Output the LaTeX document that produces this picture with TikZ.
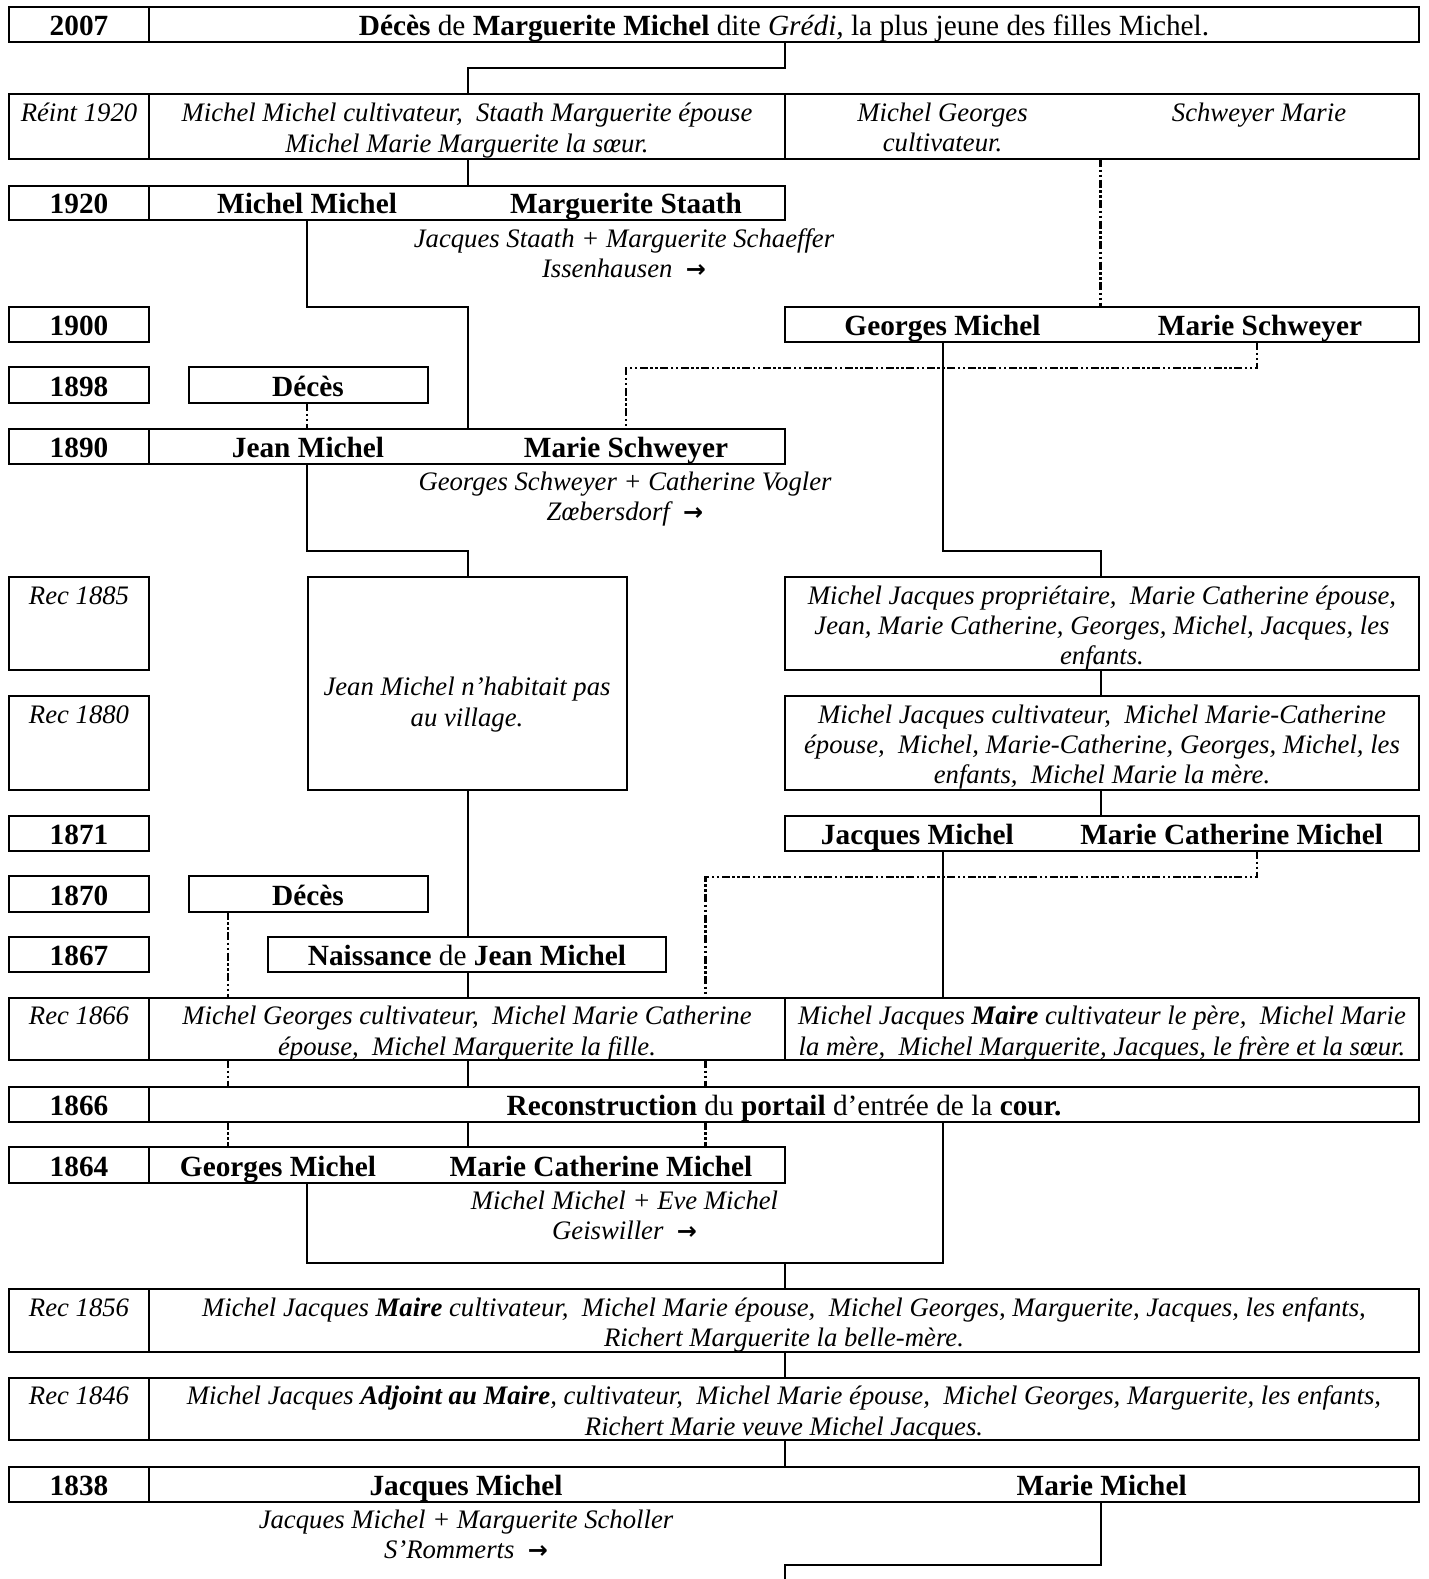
\documentclass[tikz,border=0pt]{standalone}
\usepackage{fontspec}
\setmainfont{Liberation Serif}
\newfontfamily\arrowfont{DejaVu Sans}
\usetikzlibrary{fit}
\newcommand\myarr{{\arrowfont\upshape\bfseries\fontsize{24}{28}\selectfont →}}
\begin{document}
\begin{tikzpicture}[x=1pt,y=-1pt,
 boxst/.style={draw, line width=2pt, inner sep=0pt, outer sep=0pt},
 conn/.style={line width=2pt},
 ddline/.style={line width=2.2pt, dash pattern=on 8pt off 2.5pt on 2.5pt off 2.5pt on 2.5pt off 2.5pt},
 bt/.style={font=\fontsize{29.3}{33}\selectfont\bfseries, anchor=base, inner sep=0pt},
 rt/.style={font=\fontsize{29.3}{33}\selectfont, anchor=base, inner sep=0pt},
 it/.style={font=\fontsize{26.7}{30}\selectfont\itshape, anchor=base, inner sep=0pt}]
\useasboundingbox (0,0) rectangle (1428,1579);
\fill[white] (0,0) rectangle (1428,1579);
% columns
\coordinate (cY) at (149,0);
\coordinate (c1) at (228,0);
\coordinate (c2) at (307,0);
\coordinate (c3) at (468,0);
\coordinate (c4) at (626,0);
\coordinate (c5) at (705.5,0);
\coordinate (c6) at (785,0);
\coordinate (c7) at (942.5,0);
\coordinate (c8) at (1100.5,0);
\coordinate (c9) at (1257,0);
\coordinate (j1864) at (785,1262.7);
\coordinate (bot) at (785,1579);
% boxes
\node[boxst, fit={(9,6.7) (1419,41.7)}] (r2007) {};
\node[boxst, fit={(9,94) (1419,159)}] (rReint) {};
\node[boxst, fit={(9,185.7) (785,220)}] (r1920) {};
\node[boxst, fit={(9,306.7) (149,342.3)}] (y1900) {};
\node[boxst, fit={(785,306.7) (1419,342.3)}] (g1900) {};
\node[boxst, fit={(9,367.3) (149,403.3)}] (y1898) {};
\node[boxst, fit={(188.8,367.3) (427.6,403.3)}] (d1898) {};
\node[boxst, fit={(9,429) (785,463.7)}] (r1890) {};
\node[boxst, fit={(9,576.7) (149,670)}] (y1885) {};
\node[boxst, fit={(308,576.7) (626.5,790)}] (jm) {};
\node[boxst, fit={(785,576.7) (1419,670)}] (k1885) {};
\node[boxst, fit={(9,695.7) (149,790)}] (y1880) {};
\node[boxst, fit={(785,695.7) (1419,790)}] (k1880) {};
\node[boxst, fit={(9,815.7) (149,851)}] (y1871) {};
\node[boxst, fit={(785,815.7) (1419,851)}] (j1871) {};
\node[boxst, fit={(9,876) (149,911.7)}] (y1870) {};
\node[boxst, fit={(188.8,876) (427.6,911.7)}] (d1870) {};
\node[boxst, fit={(9,937.3) (149,972.3)}] (y1867) {};
\node[boxst, fit={(268,937.3) (665.8,972.3)}] (n1867) {};
\node[boxst, fit={(9,997.7) (1419,1060)}] (r1866r) {};
\node[boxst, fit={(9,1086.7) (1419,1121.7)}] (r1866) {};
\node[boxst, fit={(9,1147.3) (785,1182.7)}] (r1864) {};
\node[boxst, fit={(9,1289.3) (1419,1351.7)}] (r1856) {};
\node[boxst, fit={(9,1377.7) (1419,1440)}] (r1846) {};
\node[boxst, fit={(9,1466.7) (1419,1501.7)}] (r1838) {};
% dividers
\foreach \b in {r2007,rReint,r1920,r1890,r1866r,r1866,r1864,r1856,r1846,r1838}
  \draw[conn] (\b.north -| cY) -- (\b.south -| cY);
\draw[conn] (rReint.north -| c6) -- (rReint.south -| c6);
\draw[conn] (r1866r.north -| c6) -- (r1866r.south -| c6);
% connectors
\draw[conn] (r2007.south -| c6) -- ++(0,26.3) -| (rReint.north -| c3);
\draw[conn] (rReint.south -| c3) -- (r1920.north -| c3);
\draw[conn] (r1920.south -| c2) |- (g1900.north -| c3) -- (r1890.north -| c3);
\draw[ddline] (rReint.south -| c8) -- (g1900.north -| c8);
\draw[ddline] (d1898.south -| c2) -- (r1890.north -| c2);
\draw[ddline] (g1900.south -| c9) -- ++(0,26) -| (r1890.north -| c4);
\draw[conn] (g1900.south -| c7) -- ++(0,208.4) -| (k1885.north -| c8);
\draw[conn] (r1890.south -| c2) -- ++(0,87) -| (jm.north -| c3);
\draw[conn] (k1885.south -| c8) -- (k1880.north -| c8);
\draw[conn] (k1880.south -| c8) -- (j1871.north -| c8);
\draw[conn] (jm.south -| c3) -- (n1867.north -| c3);
\draw[ddline] (j1871.south -| c9) -- ++(0,26) -| (r1866r.north -| c5);
\draw[conn] (j1871.south -| c7) -- (r1866r.north -| c7);
\draw[ddline] (d1870.south -| c1) -- (r1866r.north -| c1);
\draw[conn] (n1867.south -| c3) -- (r1866r.north -| c3);
\foreach \c in {c1,c5} {
  \draw[ddline] (r1866r.south -| \c) -- (r1866.north -| \c);
  \draw[ddline] (r1866.south -| \c) -- (r1864.north -| \c);
}
\draw[conn] (r1866r.south -| c3) -- (r1866.north -| c3);
\draw[conn] (r1866.south -| c3) -- (r1864.north -| c3);
\draw[conn] (r1866.south -| c7) -- ++(0,141) -| (r1864.south -| c2);
\draw[conn] (j1864) -- (r1856.north -| c6);
\draw[conn] (r1856.south -| c6) -- (r1846.north -| c6);
\draw[conn] (r1846.south -| c6) -- (r1838.north -| c6);
\draw[conn] (r1838.south -| c8) -- ++(0,63.3) -| (bot);
% texts
\node[bt] (t2007) at (79,35.5) {2007};
\node[rt] (t2007b) at (784,35.5) {\textbf{Décès} de \textbf{Marguerite Michel} dite \textit{Grédi,} la plus jeune des filles Michel.};
\node[it] (tR0) at (79,121) {Réint 1920};
\node[it] (tR1) at (467,121) {Michel Michel cultivateur,\ \ Staath Marguerite épouse};
\node[it] (tR2) at (467,152) {Michel Marie Marguerite la sœur.};
\node[it] (tR3) at (942.5,121) {Michel Georges};
\node[it] (tR4) at (942.5,151) {cultivateur.};
\node[it] (tR5) at (1259,121) {Schweyer Marie};
\node[bt] (t1920) at (79,213) {1920};
\node[bt] (t1920a) at (307,213) {Michel Michel};
\node[bt] (t1920b) at (626,213) {Marguerite Staath};
\node[it] (t1920c) at (624,247.5) {Jacques Staath + Marguerite Schaeffer};
\node[it] (t1920d) at (624,277) {Issenhausen\ \ \myarr};
\node[bt] (t1900) at (79,335.5) {1900};
\node[bt] (t1900a) at (942.5,335.5) {Georges Michel};
\node[bt] (t1900b) at (1260,335.5) {Marie Schweyer};
\node[bt] (t1898) at (79,396.5) {1898};
\node[bt] (t1898a) at (308,396.5) {Décès};
\node[bt] (t1890) at (79,457) {1890};
\node[bt] (t1890a) at (308,457) {Jean Michel};
\node[bt] (t1890b) at (626,457) {Marie Schweyer};
\node[it] (t1890c) at (625,490.4) {Georges Schweyer + Catherine Vogler};
\node[it] (t1890d) at (625,520.6) {Zœbersdorf\ \ \myarr};
\node[it] (t1885) at (79,604.2) {Rec 1885};
\node[it] (t1885a) at (1102,604.2) {Michel Jacques propriétaire,\ \ Marie Catherine épouse,};
\node[it] (t1885b) at (1102,634.4) {Jean, Marie Catherine, Georges, Michel, Jacques, les};
\node[it] (t1885c) at (1102,664.6) {enfants.};
\node[it] (tjm1) at (467,695.8) {Jean Michel n’habitait pas};
\node[it] (tjm2) at (467,726) {au village.};
\node[it] (t1880) at (79,723) {Rec 1880};
\node[it] (t1880a) at (1102,723) {Michel Jacques cultivateur,\ \ Michel Marie-Catherine};
\node[it] (t1880b) at (1102,753.2) {épouse,\ \ Michel, Marie-Catherine, Georges, Michel, les};
\node[it] (t1880c) at (1102,783.4) {enfants,\ \ Michel Marie la mère.};
\node[bt] (t1871) at (79,844.3) {1871};
\node[bt] (t1871a) at (917.4,844.3) {Jacques Michel};
\node[bt] (t1871b) at (1231.6,844.3) {Marie Catherine Michel};
\node[bt] (t1870) at (79,905) {1870};
\node[bt] (t1870a) at (308,905) {Décès};
\node[bt] (t1867) at (79,965.6) {1867};
\node[rt] (t1867a) at (467,965.6) {\textbf{Naissance} de \textbf{Jean Michel}};
\node[it] (t1866r) at (79,1024) {Rec 1866};
\node[it] (t1866a) at (467,1024) {Michel Georges cultivateur,\ \ Michel Marie Catherine};
\node[it] (t1866b) at (467,1055) {épouse,\ \ Michel Marguerite la fille.};
\node[it] (t1866c) at (1102,1024) {Michel Jacques \textbf{Maire} cultivateur le père,\ \ Michel Marie};
\node[it] (t1866d) at (1102,1055) {la mère,\ \ Michel Marguerite, Jacques, le frère et la sœur.};
\node[bt] (t1866) at (79,1115) {1866};
\node[rt] (t1866e) at (784,1115) {\textbf{Reconstruction} du \textbf{portail} d’entrée de la \textbf{cour.}};
\node[bt] (t1864) at (79,1176) {1864};
\node[bt] (t1864a) at (278,1176) {Georges Michel};
\node[bt] (t1864b) at (601,1176) {Marie Catherine Michel};
\node[it] (t1864c) at (624.5,1209.4) {Michel Michel + Eve Michel};
\node[it] (t1864d) at (624.5,1239.6) {Geiswiller\ \ \myarr};
\node[it] (t1856) at (79,1316) {Rec 1856};
\node[it] (t1856a) at (784,1316) {Michel Jacques \textbf{Maire} cultivateur,\ \ Michel Marie épouse,\ \ Michel Georges, Marguerite, Jacques, les enfants,};
\node[it] (t1856b) at (784,1346) {Richert Marguerite la belle-mère.};
\node[it] (t1846) at (79,1404.8) {Rec 1846};
\node[it] (t1846a) at (784,1404.8) {Michel Jacques \textbf{Adjoint au Maire}, cultivateur,\ \ Michel Marie épouse,\ \ Michel Georges, Marguerite, les enfants,};
\node[it] (t1846b) at (784,1435) {Richert Marie veuve Michel Jacques.};
\node[bt] (t1838) at (79,1495) {1838};
\node[bt] (t1838a) at (466,1495) {Jacques Michel};
\node[bt] (t1838b) at (1101.6,1495) {Marie Michel};
\node[it] (t1838c) at (466,1528.6) {Jacques Michel + Marguerite Scholler};
\node[it] (t1838d) at (466,1558.8) {S’Rommerts\ \ \myarr};
\end{tikzpicture}
\end{document}
